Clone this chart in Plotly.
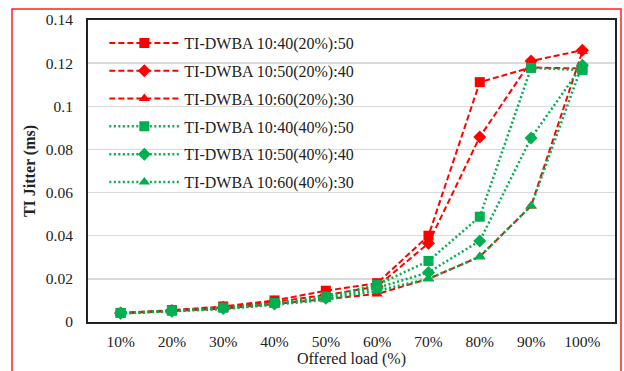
import plotly.graph_objects as go

categories = ["10%", "20%", "30%", "40%", "50%", "60%", "70%", "80%", "90%", "100%"]

red_sq_50 = [0.0042, 0.0055, 0.0072, 0.0100, 0.0145, 0.0180, 0.0400, 0.1112, 0.1180, 0.1175]
red_di_40 = [0.0042, 0.0053, 0.0068, 0.0093, 0.0125, 0.0165, 0.0365, 0.0858, 0.1210, 0.1260]
red_tr_30 = [0.0040, 0.0050, 0.0062, 0.0083, 0.0105, 0.0130, 0.0200, 0.0303, 0.0538, 0.1255]
grn_sq_50 = [0.0042, 0.0052, 0.0066, 0.0088, 0.0118, 0.0172, 0.0283, 0.0488, 0.1178, 0.1168]
grn_di_40 = [0.0040, 0.0050, 0.0063, 0.0084, 0.0110, 0.0158, 0.0230, 0.0376, 0.0853, 0.1190]
grn_tr_30 = [0.0040, 0.0049, 0.0060, 0.0080, 0.0103, 0.0145, 0.0200, 0.0303, 0.0538, 0.1195]

names = [
    "TI-DWBA 10:40(20%):50",
    "TI-DWBA 10:50(20%):40",
    "TI-DWBA 10:60(20%):30",
    "TI-DWBA 10:40(40%):50",
    "TI-DWBA 10:50(40%):40",
    "TI-DWBA 10:60(40%):30",
]
series = [red_sq_50, red_di_40, red_tr_30, grn_sq_50, grn_di_40, grn_tr_30]

RED = "#FF0000"
GREEN = "#00B050"
styles = [
    (RED, "square", 10, "dash", 2),
    (RED, "diamond", 10, "dash", 2),
    (RED, "triangle-up", 10, "dash", 2),
    (GREEN, "square", 10, "dot", 2.5),
    (GREEN, "diamond", 10, "dot", 2.5),
    (GREEN, "triangle-up", 10, "dot", 2.5),
]

fig = go.Figure()
for i, (name, vals, (col, sym, sz, dash, w)) in enumerate(zip(names, series, styles)):
    fig.add_trace(go.Scatter(
        x=categories, y=vals, name=name, mode="lines+markers", legendgroup=f"g{i}",
        line=dict(color=col, width=w, dash="6px,3px" if dash == "dash" else "2px,2.5px"),
        marker=dict(symbol=sym, size=sz, color=col),
    ))

FONT = "Liberation Serif"
TXT = "#222222"

fig.update_layout(
    width=624, height=371,
    margin=dict(l=88, r=9, t=20, b=49),
    paper_bgcolor="white", plot_bgcolor="white",
    font=dict(family=FONT, size=15.5, color=TXT),
    showlegend=True,
    legend=dict(
        x=0.031, y=0.98, xanchor="left", yanchor="top",
        bgcolor="rgba(0,0,0,0)", font=dict(family=FONT, size=16, color=TXT),
        itemwidth=70, tracegroupgap=4,
    ),
    xaxis=dict(
        type="category", showgrid=False, showline=True, linecolor="#222222",
        linewidth=2, mirror=True, ticks="", ticklabelstandoff=4, automargin=False,
        tickfont=dict(family=FONT, size=15.5, color=TXT),
        title=dict(text="Offered load (%)", font=dict(family=FONT, size=16, color=TXT), standoff=3),
        fixedrange=True,
    ),
    yaxis=dict(
        range=[0, 0.14], showgrid=True, gridcolor="#D9D9D9", gridwidth=1.5,
        showline=True, linecolor="#222222", linewidth=2, mirror=True, ticks="",
        tickvals=[0, 0.02, 0.04, 0.06, 0.08, 0.1, 0.12, 0.14],
        ticktext=["0", "0.02", "0.04", "0.06", "0.08", "0.1", "0.12", "0.14"],
        tickfont=dict(family=FONT, size=15.5, color=TXT),
        ticklabelstandoff=10, zeroline=False, automargin=False,
        title=dict(text="<b>TI Jitter (ms)</b>", font=dict(family=FONT, size=16, color=TXT), standoff=6),
        fixedrange=True,
    ),
    shapes=[dict(
        type="rect", xref="paper", yref="paper",
        x0=(12 - 88) / 527, x1=(621 - 88) / 527,
        y0=-0.3, y1=(322 - 9) / 302,
        line=dict(color="#FF2020", width=1.5), fillcolor="rgba(0,0,0,0)", layer="below",
    )],
)

fig.write_html(
    "out.html",
    config={"displayModeBar": False, "staticPlot": True},
    post_script="document.body.style.margin='0';document.body.style.overflow='hidden';",
)
